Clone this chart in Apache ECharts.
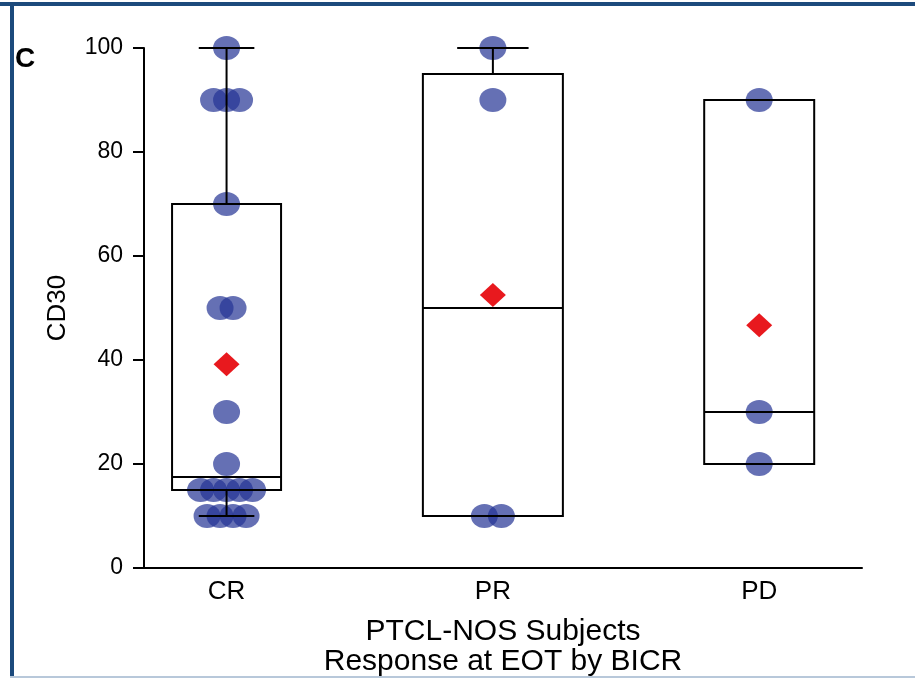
<!DOCTYPE html>
<html>
<head>
<meta charset="utf-8">
<script src="https://cdn.jsdelivr.net/npm/echarts@6/dist/echarts.min.js"></script>
<style>
html,body{margin:0;padding:0;background:#fff;}
#chart{width:915px;height:678px;}
</style>
</head>
<body>
<div id="chart"></div>
<script>
// ---- data ----
const categories = ['CR', 'PR', 'PD'];
const crValues = [100, 90, 90, 90, 70, 50, 50, 30, 20, 15, 15, 15, 15, 15, 10, 10, 10, 10];
const prValues = [100, 90, 10, 10];
const pdValues = [90, 30, 20];
const yTickValues = [0, 20, 40, 60, 80, 100];
const yAxisTitle = 'CD30';
const xAxisTitle = 'PTCL-NOS Subjects\nResponse at EOT by BICR';
const panelLabel = 'C';

// ---- style constants ----
const BOX_WIDTH_PX = [109, 140, 110];
const JITTER_PX = [13, 17, 13];
const FONT = 'Liberation Sans, Arial, Helvetica, sans-serif';

const groups = [crValues, prValues, pdValues];

// SAS-like percentile definition 5
function pct(sorted, p) {
  const n = sorted.length;
  const np = n * p;
  const j = Math.floor(np);
  if (np === j) {
    return (sorted[j - 1] + sorted[j]) / 2;
  }
  return sorted[j];
}
function stats(vals) {
  const s = vals.slice().sort((a, b) => a - b);
  const q1 = pct(s, 0.25), med = pct(s, 0.5), q3 = pct(s, 0.75);
  const iqr = q3 - q1;
  const lo = Math.min.apply(null, s.filter(v => v >= q1 - 1.5 * iqr));
  const hi = Math.max.apply(null, s.filter(v => v <= q3 + 1.5 * iqr));
  const mean = s.reduce((a, b) => a + b, 0) / s.length;
  return { q1, med, q3, lo, hi, mean };
}

const boxData = groups.map((g, i) => {
  const st = stats(g);
  return [i + 1, st.q1, st.med, st.q3, st.lo, st.hi];
});
const meanData = groups.map((g, i) => [i + 1, stats(g).mean]);

const pointData = [];
groups.forEach((g, gi) => {
  const counts = {};
  g.forEach(v => { counts[v] = (counts[v] || 0) + 1; });
  const seen = {};
  g.forEach(v => {
    const n = counts[v];
    const k = seen[v] || 0;
    seen[v] = k + 1;
    const off = (k - (n - 1) / 2) * JITTER_PX[gi];
    pointData.push({ value: [gi + 1, v], symbolOffset: [off, 0] });
  });
});

const chart = echarts.init(document.getElementById('chart'), null, { renderer: 'canvas' });

const option = {
  backgroundColor: '#ffffff',
  animation: false,
  grid: { left: 144, right: 53, top: 48, bottom: 110, containLabel: false, outerBoundsMode: 'none' },
  xAxis: {
    type: 'value',
    min: 0.69,
    max: 3.386,
    axisLine: { show: true, onZero: false, lineStyle: { color: '#000', width: 2 } },
    axisTick: { show: false },
    splitLine: { show: false },
    axisLabel: {
      customValues: [1, 2, 3],
      formatter: v => categories[Math.round(v) - 1] || '',
      color: '#000',
      fontFamily: FONT,
      fontSize: 26,
      margin: 11
    },
    name: xAxisTitle,
    nameLocation: 'middle',
    nameGap: 49,
    nameTextStyle: { color: '#000', fontFamily: FONT, fontSize: 30, lineHeight: 30 }
  },
  yAxis: {
    type: 'value',
    min: 0,
    max: 100,
    interval: 20,
    axisLine: { show: true, lineStyle: { color: '#000', width: 2 } },
    axisTick: { show: true, length: 11, lineStyle: { color: '#000', width: 2 },
      customValues: yTickValues },
    splitLine: { show: false },
    axisLabel: { color: '#000', fontFamily: FONT, fontSize: 23, margin: 21,
      customValues: yTickValues },
    name: yAxisTitle,
    nameLocation: 'middle',
    nameRotate: 90,
    nameGap: 73,
    nameTextStyle: { color: '#000', fontFamily: FONT, fontSize: 26 }
  },
  graphic: [
    { type: 'rect', shape: { x: 0, y: 2, width: 915, height: 4 }, style: { fill: '#1c4a7c' }, z: 100 },
    { type: 'rect', shape: { x: 10, y: 2, width: 4, height: 676 }, style: { fill: '#1c4a7c' }, z: 100 },
    { type: 'rect', shape: { x: 10, y: 676, width: 905, height: 2 }, style: { fill: '#b8c8da' }, z: 100 },
    { type: 'text', left: 15, top: 45, style: { text: panelLabel, font: 'bold 28px ' + FONT, fill: '#000' }, z: 100 }
  ],
  series: [
    {
      type: 'scatter',
      data: pointData,
      symbol: 'circle',
      symbolSize: [27, 24],
      itemStyle: { color: '#243394', opacity: 0.7 },
      z: 2
    },
    {
      type: 'custom',
      data: boxData,
      clip: false,
      z: 3,
      renderItem: function (params, api) {
        const x = api.value(0);
        const q1 = api.value(1), med = api.value(2), q3 = api.value(3), lo = api.value(4), hi = api.value(5);
        const pQ1 = api.coord([x, q1]);
        const pMed = api.coord([x, med]);
        const pQ3 = api.coord([x, q3]);
        const pLo = api.coord([x, lo]);
        const pHi = api.coord([x, hi]);
        const cx = pQ1[0];
        const hw = BOX_WIDTH_PX[params.dataIndex] / 2;
        const cap = hw * 0.51;
        const st = { stroke: '#000', lineWidth: 2, fill: null };
        const children = [
          { type: 'rect', shape: { x: cx - hw, y: pQ3[1], width: 2 * hw, height: pQ1[1] - pQ3[1] }, style: st },
          { type: 'line', shape: { x1: cx - hw, y1: pMed[1], x2: cx + hw, y2: pMed[1] }, style: st }
        ];
        if (hi > q3) {
          children.push({ type: 'line', shape: { x1: cx, y1: pQ3[1], x2: cx, y2: pHi[1] }, style: st });
          children.push({ type: 'line', shape: { x1: cx - cap, y1: pHi[1], x2: cx + cap, y2: pHi[1] }, style: st });
        }
        if (lo < q1) {
          children.push({ type: 'line', shape: { x1: cx, y1: pQ1[1], x2: cx, y2: pLo[1] }, style: st });
          children.push({ type: 'line', shape: { x1: cx - cap, y1: pLo[1], x2: cx + cap, y2: pLo[1] }, style: st });
        }
        return { type: 'group', children: children };
      }
    },
    {
      type: 'scatter',
      data: meanData,
      symbol: 'diamond',
      symbolSize: [26, 24],
      itemStyle: { color: '#e8191e', opacity: 1 },
      z: 4
    }
  ]
};
chart.setOption(option);
</script>
</body>
</html>
